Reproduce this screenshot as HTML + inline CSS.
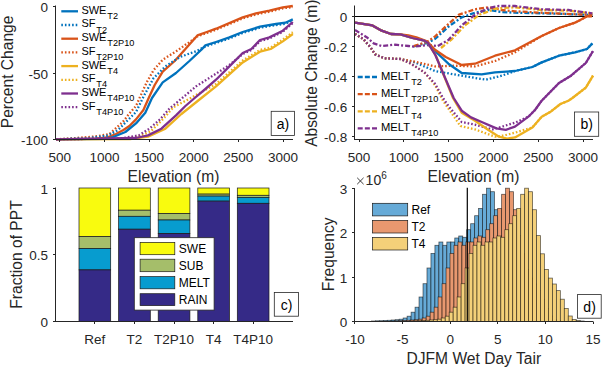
<!DOCTYPE html>
<html><head><meta charset="utf-8"><style>
html,body{margin:0;padding:0;background:#fff;}
svg{display:block;}
text{font-family:"Liberation Sans",sans-serif;}
</style></head><body>
<svg width="602" height="367" viewBox="0 0 602 367">
<rect width="602" height="367" fill="#fff"/>
<polyline points="56.0,139.3 96.0,138.6 107.0,137.5 116.0,134.0 123.4,130.0 129.4,126.0 136.0,119.4 143.4,110.0 148.7,98.0 154.7,85.0 162.7,71.7 174.7,61.0 185.4,49.0 197.4,35.4 206.8,32.0 216.0,28.7 242.7,17.4 256.0,13.4 269.4,10.7 282.8,7.3 292.8,6.0" fill="none" stroke="#D95319" stroke-width="2.3" stroke-linejoin="round" />
<polyline points="56.0,139.3 105.0,138.8 112.0,137.5 125.4,132.0 136.0,123.4 145.3,112.7 152.0,98.0 162.7,82.4 176.0,73.0 189.4,61.0 201.4,49.7 205.4,45.4 216.0,42.0 229.4,37.4 242.7,32.0 260.0,26.7 276.0,24.0 285.4,22.7 292.8,19.4" fill="none" stroke="#0072BD" stroke-width="2.3" stroke-linejoin="round" />
<polyline points="56.0,139.3 76.0,138.0 95.0,136.5 109.4,134.0 115.0,129.0 122.8,122.0 129.0,114.0 136.0,106.0 140.0,97.0 146.7,82.4 153.4,70.4 162.7,59.7 177.4,50.5 186.4,44.1 189.0,42.5 197.4,36.4 206.8,33.0 216.0,29.7 242.7,18.4 256.0,14.4 269.4,11.7 282.8,8.3 292.8,7.0" fill="none" stroke="#D95319" stroke-width="2.3" stroke-dasharray="1.6,2" stroke-linejoin="round" />
<polyline points="56.0,139.3 90.0,138.0 108.0,135.5 118.0,130.0 126.0,122.0 136.0,112.0 144.0,95.7 153.4,78.4 165.4,66.4 180.0,57.0 197.4,50.7 205.4,46.4 216.0,43.0 229.4,38.4 242.7,33.0 260.0,27.7 276.0,25.0 285.4,23.7 292.8,20.4" fill="none" stroke="#0072BD" stroke-width="2.3" stroke-dasharray="1.6,2" stroke-linejoin="round" />
<polyline points="56.0,139.3 130.0,139.0 148.0,136.7 165.4,128.7 181.4,114.0 201.4,98.0 216.0,86.4 242.7,62.4 260.0,51.7 270.7,49.0 282.8,41.4 292.8,34.0" fill="none" stroke="#EDB120" stroke-width="2.3" stroke-linejoin="round" />
<polyline points="56.0,139.3 125.0,138.5 140.0,136.0 150.7,131.4 162.7,119.4 173.4,107.3 189.4,98.7 216.0,84.0 242.7,60.5 260.0,50.0 270.7,47.5 282.8,39.6 292.8,32.3" fill="none" stroke="#EDB120" stroke-width="2.3" stroke-dasharray="1.6,2" stroke-linejoin="round" />
<polyline points="56.0,139.3 120.0,138.5 138.7,135.4 149.4,128.7 160.0,119.4 169.4,108.7 181.4,98.7 196.0,86.4 216.0,73.7 229.4,65.0 242.7,54.0 251.4,50.0 260.0,41.0 269.4,38.4 282.8,31.7 292.8,23.0" fill="none" stroke="#7E2F8E" stroke-width="2.3" stroke-dasharray="1.6,2" stroke-linejoin="round" />
<polyline points="56.0,139.3 136.0,138.0 148.0,135.4 161.4,128.7 176.0,115.4 185.4,106.0 194.7,98.0 205.4,89.0 216.0,79.7 229.4,66.4 242.7,53.0 251.4,49.0 260.0,40.0 269.4,37.4 282.8,30.7 292.8,22.0" fill="none" stroke="#7E2F8E" stroke-width="2.3" stroke-linejoin="round" />
<line x1="55.5" y1="5.5" x2="55.5" y2="140" stroke="#262626" stroke-width="1"/>
<line x1="55" y1="139.5" x2="293" y2="139.5" stroke="#262626" stroke-width="1"/>
<line x1="53.0" y1="6.5" x2="55.5" y2="6.5" stroke="#262626" stroke-width="1"/>
<text x="48" y="12.399999999999999" font-size="13.5" text-anchor="end" fill="#262626" >0</text>
<line x1="53.0" y1="73.5" x2="55.5" y2="73.5" stroke="#262626" stroke-width="1"/>
<text x="48" y="78.6" font-size="13.5" text-anchor="end" fill="#262626" >-50</text>
<line x1="53.0" y1="139.5" x2="55.5" y2="139.5" stroke="#262626" stroke-width="1"/>
<text x="48" y="144.8" font-size="13.5" text-anchor="end" fill="#262626" >-100</text>
<line x1="59.5" y1="139.5" x2="59.5" y2="142.0" stroke="#262626" stroke-width="1"/>
<text x="59.75" y="161.8" font-size="13.5" text-anchor="middle" fill="#262626" >500</text>
<line x1="104.5" y1="139.5" x2="104.5" y2="142.0" stroke="#262626" stroke-width="1"/>
<text x="104.4" y="161.8" font-size="13.5" text-anchor="middle" fill="#262626" >1000</text>
<line x1="149.5" y1="139.5" x2="149.5" y2="142.0" stroke="#262626" stroke-width="1"/>
<text x="149.05" y="161.8" font-size="13.5" text-anchor="middle" fill="#262626" >1500</text>
<line x1="193.5" y1="139.5" x2="193.5" y2="142.0" stroke="#262626" stroke-width="1"/>
<text x="193.70000000000002" y="161.8" font-size="13.5" text-anchor="middle" fill="#262626" >2000</text>
<line x1="238.5" y1="139.5" x2="238.5" y2="142.0" stroke="#262626" stroke-width="1"/>
<text x="238.35000000000002" y="161.8" font-size="13.5" text-anchor="middle" fill="#262626" >2500</text>
<line x1="283.5" y1="139.5" x2="283.5" y2="142.0" stroke="#262626" stroke-width="1"/>
<text x="283.0" y="161.8" font-size="13.5" text-anchor="middle" fill="#262626" >3000</text>
<text x="173.5" y="182.4" font-size="15.6" text-anchor="middle" fill="#262626" >Elevation (m)</text>
<text transform="translate(13.1,71.9) rotate(-90)" font-size="15.6" text-anchor="middle" fill="#262626">Percent Change</text>
<polyline points="61.3,11.3 78.0,11.3" fill="none" stroke="#0072BD" stroke-width="2.3" stroke-linejoin="round" />
<text x="81.4" y="13.7" font-size="11" fill="#000">SWE<tspan font-size="9.2" dx="0.9" dy="5.2">T2</tspan></text>
<polyline points="61.3,25.0 78.0,25.0" fill="none" stroke="#0072BD" stroke-width="2.3" stroke-dasharray="1.6,2" stroke-linejoin="round" />
<text x="81.4" y="27.4" font-size="11" fill="#000">SF<tspan font-size="9.2" dx="0.9" dy="5.2">T2</tspan></text>
<polyline points="61.3,38.7 78.0,38.7" fill="none" stroke="#D95319" stroke-width="2.3" stroke-linejoin="round" />
<text x="81.4" y="41.1" font-size="11" fill="#000">SWE<tspan font-size="9.2" dx="0.9" dy="5.2">T2P10</tspan></text>
<polyline points="61.3,52.4 78.0,52.4" fill="none" stroke="#D95319" stroke-width="2.3" stroke-dasharray="1.6,2" stroke-linejoin="round" />
<text x="81.4" y="54.8" font-size="11" fill="#000">SF<tspan font-size="9.2" dx="0.9" dy="5.2">T2P10</tspan></text>
<polyline points="61.3,66.1 78.0,66.1" fill="none" stroke="#EDB120" stroke-width="2.3" stroke-linejoin="round" />
<text x="81.4" y="68.5" font-size="11" fill="#000">SWE<tspan font-size="9.2" dx="0.9" dy="5.2">T4</tspan></text>
<polyline points="61.3,79.8 78.0,79.8" fill="none" stroke="#EDB120" stroke-width="2.3" stroke-dasharray="1.6,2" stroke-linejoin="round" />
<text x="81.4" y="82.2" font-size="11" fill="#000">SF<tspan font-size="9.2" dx="0.9" dy="5.2">T4</tspan></text>
<polyline points="61.3,93.5 78.0,93.5" fill="none" stroke="#7E2F8E" stroke-width="2.3" stroke-linejoin="round" />
<text x="81.4" y="95.9" font-size="11" fill="#000">SWE<tspan font-size="9.2" dx="0.9" dy="5.2">T4P10</tspan></text>
<polyline points="61.3,107.2 78.0,107.2" fill="none" stroke="#7E2F8E" stroke-width="2.3" stroke-dasharray="1.6,2" stroke-linejoin="round" />
<text x="81.4" y="109.6" font-size="11" fill="#000">SF<tspan font-size="9.2" dx="0.9" dy="5.2">T4P10</tspan></text>
<rect x="271.2" y="111.3" width="23.19999999999999" height="24.10000000000001" fill="#fff" stroke="#262626" stroke-width="0.8"/>
<text x="282.99999999999994" y="128.54999999999998" font-size="14" text-anchor="middle" fill="#000" >a)</text>
<line x1="355" y1="16.5" x2="593" y2="16.5" stroke="#000" stroke-width="1.2"/>
<polyline points="413.7,46.5 427.0,43.0 435.0,39.0 448.4,26.7 461.7,17.4 475.0,12.7 488.4,10.0 501.8,12.0 515.0,12.7 555.0,13.6 592.4,15.0" fill="none" stroke="#0072BD" stroke-width="2.3" stroke-dasharray="5,2,2,2" stroke-linejoin="round" />
<polyline points="413.7,46.0 427.0,42.0 435.0,36.5 448.4,24.0 459.0,14.7 475.0,9.3 488.4,7.3 501.8,10.0 515.0,11.3 555.0,13.4 592.4,15.0" fill="none" stroke="#D95319" stroke-width="2.3" stroke-dasharray="5,2,2,2" stroke-linejoin="round" />
<polyline points="441.0,48.0 452.0,39.0 465.0,25.4 479.5,14.7 496.0,8.5 515.0,7.3 541.7,10.0 568.4,10.7 592.4,13.4" fill="none" stroke="#EDB120" stroke-width="2.3" stroke-dasharray="5,2,2,2" stroke-linejoin="round" />
<polyline points="355.0,30.0 367.0,37.4 373.7,43.4 381.7,46.0 395.0,44.7 408.4,46.0 413.7,46.7 427.0,45.0 437.7,46.0 448.4,40.0 461.7,25.4 475.0,14.7 488.4,8.0 499.0,6.0 515.0,6.0 541.7,9.3 568.4,10.0 592.4,13.4" fill="none" stroke="#7E2F8E" stroke-width="2.3" stroke-dasharray="5,2,2,2" stroke-linejoin="round" />
<polyline points="355.0,34.0 363.0,38.7 371.0,48.0 375.0,54.3 384.4,58.3 400.4,59.0 415.0,62.4 435.0,71.0 461.7,75.7 485.7,79.7 501.8,75.7 515.0,71.0 532.4,67.0 541.7,62.4 559.0,55.7 575.0,52.3 587.0,49.0 592.4,43.4" fill="none" stroke="#0072BD" stroke-width="2.3" stroke-dasharray="1.6,2" stroke-linejoin="round" />
<polyline points="355.0,34.0 363.0,38.7 371.0,48.0 375.0,54.3 384.4,58.3 400.4,59.0 415.0,61.7 435.0,66.4 455.0,65.7 475.0,66.4 495.0,61.0 515.0,52.3 541.7,36.0 559.0,28.0 575.0,22.7 587.8,16.0 592.0,16.0" fill="none" stroke="#D95319" stroke-width="2.3" stroke-dasharray="1.6,2" stroke-linejoin="round" />
<polyline points="355.0,34.0 363.0,38.7 371.0,48.0 375.0,54.3 384.4,58.3 400.4,59.0 411.0,63.7 424.4,72.4 435.0,85.0 443.0,100.7 460.4,126.0 475.0,129.4 495.0,136.7 504.4,135.4 515.0,132.7 532.4,127.4 541.7,116.7 551.0,111.4 560.4,104.0 568.4,100.7 572.4,98.0 585.8,87.7 593.0,75.7" fill="none" stroke="#EDB120" stroke-width="2.3" stroke-dasharray="1.6,2" stroke-linejoin="round" />
<polyline points="355.0,34.0 363.0,38.7 371.0,48.0 375.0,54.3 384.4,58.3 400.4,59.0 411.0,63.7 424.4,72.4 435.0,83.7 443.0,98.0 448.4,106.0 461.7,122.0 475.0,124.7 492.4,129.4 501.8,126.7 515.0,122.7 528.4,116.7 535.0,110.0 541.7,100.7 559.0,83.0 571.0,75.7 585.8,63.0 593.0,51.0" fill="none" stroke="#7E2F8E" stroke-width="2.3" stroke-dasharray="1.6,2" stroke-linejoin="round" />
<polyline points="355.0,22.7 372.4,25.4 381.7,30.7 391.0,34.0 400.4,34.4 412.4,38.0 424.4,40.7 435.0,51.0 448.4,63.7 461.7,73.0 481.7,74.4 495.0,72.4 515.0,71.0 532.4,67.0 541.7,62.4 559.0,55.7 575.0,52.3 587.0,49.0 592.4,43.4" fill="none" stroke="#0072BD" stroke-width="2.3" stroke-linejoin="round" />
<polyline points="355.0,22.7 372.4,25.4 381.7,30.7 391.0,34.0 400.4,34.4 408.4,35.4 416.4,37.4 427.0,41.4 435.0,49.7 445.7,57.0 461.7,65.0 475.0,63.7 495.0,55.7 515.0,50.3 541.7,36.0 559.0,28.0 575.0,22.7 587.8,16.0 592.0,16.3" fill="none" stroke="#D95319" stroke-width="2.3" stroke-linejoin="round" />
<polyline points="355.0,22.7 372.4,25.4 381.7,30.7 391.0,34.0 400.4,34.4 412.4,38.0 424.4,40.7 428.0,43.0 436.0,56.0 453.0,98.0 461.7,112.7 475.0,120.7 488.4,130.0 499.0,136.7 507.0,138.7 515.0,137.4 532.4,127.4 541.7,116.7 551.0,111.4 560.4,104.0 568.4,100.7 572.4,98.0 585.8,87.7 593.0,75.7" fill="none" stroke="#EDB120" stroke-width="2.3" stroke-linejoin="round" />
<polyline points="355.0,22.7 372.4,25.4 381.7,30.7 391.0,34.0 400.4,34.4 412.4,38.0 424.4,40.7 427.8,42.7 435.0,54.3 453.7,98.0 461.7,110.7 471.0,117.4 481.7,122.0 496.4,128.4 505.8,129.8 515.0,126.7 528.4,116.7 535.0,110.0 541.7,100.7 559.0,83.0 571.0,75.7 585.8,63.0 593.0,51.0" fill="none" stroke="#7E2F8E" stroke-width="2.3" stroke-linejoin="round" />
<line x1="354.5" y1="5.5" x2="354.5" y2="140" stroke="#262626" stroke-width="1"/>
<line x1="354" y1="139.5" x2="593" y2="139.5" stroke="#262626" stroke-width="1"/>
<line x1="352.0" y1="16.5" x2="354.5" y2="16.5" stroke="#262626" stroke-width="1"/>
<text x="347.2" y="22.1" font-size="13.5" text-anchor="end" fill="#262626" >0</text>
<line x1="352.0" y1="46.5" x2="354.5" y2="46.5" stroke="#262626" stroke-width="1"/>
<text x="347.2" y="52.00000000000001" font-size="13.5" text-anchor="end" fill="#262626" >-0.2</text>
<line x1="352.0" y1="76.5" x2="354.5" y2="76.5" stroke="#262626" stroke-width="1"/>
<text x="347.2" y="81.9" font-size="13.5" text-anchor="end" fill="#262626" >-0.4</text>
<line x1="352.0" y1="106.5" x2="354.5" y2="106.5" stroke="#262626" stroke-width="1"/>
<text x="347.2" y="111.8" font-size="13.5" text-anchor="end" fill="#262626" >-0.6</text>
<line x1="352.0" y1="136.5" x2="354.5" y2="136.5" stroke="#262626" stroke-width="1"/>
<text x="347.2" y="141.70000000000002" font-size="13.5" text-anchor="end" fill="#262626" >-0.8</text>
<line x1="359.5" y1="139.5" x2="359.5" y2="142.0" stroke="#262626" stroke-width="1"/>
<text x="359.0" y="161.8" font-size="13.5" text-anchor="middle" fill="#262626" >500</text>
<line x1="403.5" y1="139.5" x2="403.5" y2="142.0" stroke="#262626" stroke-width="1"/>
<text x="403.8" y="161.8" font-size="13.5" text-anchor="middle" fill="#262626" >1000</text>
<line x1="448.5" y1="139.5" x2="448.5" y2="142.0" stroke="#262626" stroke-width="1"/>
<text x="448.6" y="161.8" font-size="13.5" text-anchor="middle" fill="#262626" >1500</text>
<line x1="493.5" y1="139.5" x2="493.5" y2="142.0" stroke="#262626" stroke-width="1"/>
<text x="493.4" y="161.8" font-size="13.5" text-anchor="middle" fill="#262626" >2000</text>
<line x1="538.5" y1="139.5" x2="538.5" y2="142.0" stroke="#262626" stroke-width="1"/>
<text x="538.2" y="161.8" font-size="13.5" text-anchor="middle" fill="#262626" >2500</text>
<line x1="583.5" y1="139.5" x2="583.5" y2="142.0" stroke="#262626" stroke-width="1"/>
<text x="583.0" y="161.8" font-size="13.5" text-anchor="middle" fill="#262626" >3000</text>
<text x="473.5" y="182.4" font-size="15.6" text-anchor="middle" fill="#262626" >Elevation (m)</text>
<text transform="translate(316.7,73.2) rotate(-90)" font-size="15.6" text-anchor="middle" fill="#262626">Absolute Change (m)</text>
<polyline points="357.7,77.0 377.0,77.0" fill="none" stroke="#0072BD" stroke-width="2.3" stroke-dasharray="5,2.15" stroke-linejoin="round" />
<text x="381" y="80.0" font-size="11.2" fill="#000">MELT<tspan font-size="9.2" dx="1.2" dy="4.9">T2</tspan></text>
<polyline points="357.7,94.2 377.0,94.2" fill="none" stroke="#D95319" stroke-width="2.3" stroke-dasharray="5,2.15" stroke-linejoin="round" />
<text x="381" y="97.2" font-size="11.2" fill="#000">MELT<tspan font-size="9.2" dx="1.2" dy="4.9">T2P10</tspan></text>
<polyline points="357.7,111.3 377.0,111.3" fill="none" stroke="#EDB120" stroke-width="2.3" stroke-dasharray="5,2.15" stroke-linejoin="round" />
<text x="381" y="114.3" font-size="11.2" fill="#000">MELT<tspan font-size="9.2" dx="1.2" dy="4.9">T4</tspan></text>
<polyline points="357.7,128.4 377.0,128.4" fill="none" stroke="#7E2F8E" stroke-width="2.3" stroke-dasharray="5,2.15" stroke-linejoin="round" />
<text x="381" y="131.4" font-size="11.2" fill="#000">MELT<tspan font-size="9.2" dx="1.2" dy="4.9">T4P10</tspan></text>
<rect x="574.4" y="112" width="24.300000000000068" height="24.30000000000001" fill="#fff" stroke="#262626" stroke-width="0.8"/>
<text x="586.75" y="129.35" font-size="14" text-anchor="middle" fill="#000" >b)</text>
<rect x="79.0" y="188.0" width="31.7" height="48.6" fill="#F9FB0E" stroke="#1a1a1a" stroke-width="0.7"/>
<rect x="79.0" y="236.6" width="31.7" height="12.0" fill="#A5BE6A" stroke="#1a1a1a" stroke-width="0.7"/>
<rect x="79.0" y="248.6" width="31.7" height="21.3" fill="#079CCF" stroke="#1a1a1a" stroke-width="0.7"/>
<rect x="79.0" y="269.9" width="31.7" height="51.6" fill="#352A87" stroke="#1a1a1a" stroke-width="0.7"/>
<rect x="118.6" y="188.0" width="31.7" height="22.2" fill="#F9FB0E" stroke="#1a1a1a" stroke-width="0.7"/>
<rect x="118.6" y="210.2" width="31.7" height="6.1" fill="#A5BE6A" stroke="#1a1a1a" stroke-width="0.7"/>
<rect x="118.6" y="216.3" width="31.7" height="12.9" fill="#079CCF" stroke="#1a1a1a" stroke-width="0.7"/>
<rect x="118.6" y="229.2" width="31.7" height="92.3" fill="#352A87" stroke="#1a1a1a" stroke-width="0.7"/>
<rect x="158.2" y="188.0" width="31.7" height="25.5" fill="#F9FB0E" stroke="#1a1a1a" stroke-width="0.7"/>
<rect x="158.2" y="213.5" width="31.7" height="6.5" fill="#A5BE6A" stroke="#1a1a1a" stroke-width="0.7"/>
<rect x="158.2" y="220.0" width="31.7" height="13.6" fill="#079CCF" stroke="#1a1a1a" stroke-width="0.7"/>
<rect x="158.2" y="233.6" width="31.7" height="87.9" fill="#352A87" stroke="#1a1a1a" stroke-width="0.7"/>
<rect x="197.8" y="188.0" width="31.7" height="6.1" fill="#F9FB0E" stroke="#1a1a1a" stroke-width="0.7"/>
<rect x="197.8" y="194.1" width="31.7" height="2.0" fill="#A5BE6A" stroke="#1a1a1a" stroke-width="0.7"/>
<rect x="197.8" y="196.1" width="31.7" height="5.0" fill="#079CCF" stroke="#1a1a1a" stroke-width="0.7"/>
<rect x="197.8" y="201.1" width="31.7" height="120.4" fill="#352A87" stroke="#1a1a1a" stroke-width="0.7"/>
<rect x="237.3" y="188.0" width="31.7" height="7.3" fill="#F9FB0E" stroke="#1a1a1a" stroke-width="0.7"/>
<rect x="237.3" y="195.3" width="31.7" height="2.1" fill="#A5BE6A" stroke="#1a1a1a" stroke-width="0.7"/>
<rect x="237.3" y="197.4" width="31.7" height="5.9" fill="#079CCF" stroke="#1a1a1a" stroke-width="0.7"/>
<rect x="237.3" y="203.3" width="31.7" height="118.2" fill="#352A87" stroke="#1a1a1a" stroke-width="0.7"/>
<line x1="55.5" y1="187.5" x2="55.5" y2="322" stroke="#262626" stroke-width="1"/>
<line x1="55.5" y1="321.5" x2="293" y2="321.5" stroke="#262626" stroke-width="1"/>
<line x1="53.0" y1="321.5" x2="55.5" y2="321.5" stroke="#262626" stroke-width="1"/>
<text x="48" y="327.1" font-size="13.5" text-anchor="end" fill="#262626" >0</text>
<line x1="53.0" y1="254.5" x2="55.5" y2="254.5" stroke="#262626" stroke-width="1"/>
<text x="48" y="260.35" font-size="13.5" text-anchor="end" fill="#262626" >0.5</text>
<line x1="53.0" y1="188.5" x2="55.5" y2="188.5" stroke="#262626" stroke-width="1"/>
<text x="48" y="193.6" font-size="13.5" text-anchor="end" fill="#262626" >1</text>
<line x1="94.5" y1="321.5" x2="94.5" y2="324.0" stroke="#262626" stroke-width="1"/>
<text x="94.8" y="343.5" font-size="13.5" text-anchor="middle" fill="#262626" >Ref</text>
<line x1="134.5" y1="321.5" x2="134.5" y2="324.0" stroke="#262626" stroke-width="1"/>
<text x="134.4" y="343.5" font-size="13.5" text-anchor="middle" fill="#262626" >T2</text>
<line x1="174.5" y1="321.5" x2="174.5" y2="324.0" stroke="#262626" stroke-width="1"/>
<text x="174.0" y="343.5" font-size="13.5" text-anchor="middle" fill="#262626" >T2P10</text>
<line x1="213.5" y1="321.5" x2="213.5" y2="324.0" stroke="#262626" stroke-width="1"/>
<text x="213.6" y="343.5" font-size="13.5" text-anchor="middle" fill="#262626" >T4</text>
<line x1="253.5" y1="321.5" x2="253.5" y2="324.0" stroke="#262626" stroke-width="1"/>
<text x="253.2" y="343.5" font-size="13.5" text-anchor="middle" fill="#262626" >T4P10</text>
<text transform="translate(22,254.5) rotate(-90)" font-size="15.6" text-anchor="middle" fill="#262626">Fraction of PPT</text>
<rect x="134.3" y="237.7" width="79.8" height="72.4" fill="#fff" stroke="#262626" stroke-width="0.8"/>
<rect x="140.1" y="242.4" width="34.7" height="12.3" fill="#F9FB0E" stroke="#1a1a1a" stroke-width="0.7"/>
<text x="178.8" y="252.85000000000002" font-size="12" text-anchor="start" fill="#000" >SWE</text>
<rect x="140.1" y="259.2" width="34.7" height="12.5" fill="#A5BE6A" stroke="#1a1a1a" stroke-width="0.7"/>
<text x="178.8" y="269.75" font-size="12" text-anchor="start" fill="#000" >SUB</text>
<rect x="140.1" y="276.6" width="34.7" height="12.2" fill="#079CCF" stroke="#1a1a1a" stroke-width="0.7"/>
<text x="178.8" y="287.00000000000006" font-size="12" text-anchor="start" fill="#000" >MELT</text>
<rect x="140.1" y="293.7" width="34.7" height="11.9" fill="#352A87" stroke="#1a1a1a" stroke-width="0.7"/>
<text x="178.8" y="303.95" font-size="12" text-anchor="start" fill="#000" >RAIN</text>
<rect x="274.3" y="292.5" width="24.099999999999966" height="23.69999999999999" fill="#fff" stroke="#262626" stroke-width="0.8"/>
<text x="286.55" y="309.55" font-size="14" text-anchor="middle" fill="#000" >c)</text>
<rect x="371.40" y="321.00" width="3.97" height="0.50" fill="#66AAD7" stroke="#000" stroke-opacity="0.6" stroke-width="0.8"/>
<rect x="375.37" y="320.80" width="3.97" height="0.70" fill="#66AAD7" stroke="#000" stroke-opacity="0.6" stroke-width="0.8"/>
<rect x="379.34" y="320.70" width="3.97" height="0.80" fill="#66AAD7" stroke="#000" stroke-opacity="0.6" stroke-width="0.8"/>
<rect x="383.31" y="320.50" width="3.97" height="1.00" fill="#66AAD7" stroke="#000" stroke-opacity="0.6" stroke-width="0.8"/>
<rect x="387.28" y="320.30" width="3.97" height="1.20" fill="#66AAD7" stroke="#000" stroke-opacity="0.6" stroke-width="0.8"/>
<rect x="391.25" y="320.00" width="3.97" height="1.50" fill="#66AAD7" stroke="#000" stroke-opacity="0.6" stroke-width="0.8"/>
<rect x="395.22" y="319.70" width="3.97" height="1.80" fill="#66AAD7" stroke="#000" stroke-opacity="0.6" stroke-width="0.8"/>
<rect x="399.19" y="319.20" width="3.97" height="2.30" fill="#66AAD7" stroke="#000" stroke-opacity="0.6" stroke-width="0.8"/>
<rect x="403.16" y="318.00" width="3.97" height="3.50" fill="#66AAD7" stroke="#000" stroke-opacity="0.6" stroke-width="0.8"/>
<rect x="407.13" y="316.20" width="3.97" height="5.30" fill="#66AAD7" stroke="#000" stroke-opacity="0.6" stroke-width="0.8"/>
<rect x="411.10" y="312.20" width="3.97" height="9.30" fill="#66AAD7" stroke="#000" stroke-opacity="0.6" stroke-width="0.8"/>
<rect x="415.07" y="307.20" width="3.97" height="14.30" fill="#66AAD7" stroke="#000" stroke-opacity="0.6" stroke-width="0.8"/>
<rect x="419.04" y="297.00" width="3.97" height="24.50" fill="#66AAD7" stroke="#000" stroke-opacity="0.6" stroke-width="0.8"/>
<rect x="423.01" y="283.70" width="3.97" height="37.80" fill="#66AAD7" stroke="#000" stroke-opacity="0.6" stroke-width="0.8"/>
<rect x="426.98" y="268.00" width="3.97" height="53.50" fill="#66AAD7" stroke="#000" stroke-opacity="0.6" stroke-width="0.8"/>
<rect x="430.95" y="253.40" width="3.97" height="68.10" fill="#66AAD7" stroke="#000" stroke-opacity="0.6" stroke-width="0.8"/>
<rect x="434.92" y="245.30" width="3.97" height="76.20" fill="#66AAD7" stroke="#000" stroke-opacity="0.6" stroke-width="0.8"/>
<rect x="438.89" y="242.00" width="3.97" height="79.50" fill="#66AAD7" stroke="#000" stroke-opacity="0.6" stroke-width="0.8"/>
<rect x="442.86" y="245.30" width="3.97" height="76.20" fill="#66AAD7" stroke="#000" stroke-opacity="0.6" stroke-width="0.8"/>
<rect x="446.83" y="242.00" width="3.97" height="79.50" fill="#66AAD7" stroke="#000" stroke-opacity="0.6" stroke-width="0.8"/>
<rect x="450.80" y="242.00" width="3.97" height="79.50" fill="#66AAD7" stroke="#000" stroke-opacity="0.6" stroke-width="0.8"/>
<rect x="454.77" y="238.00" width="3.97" height="83.50" fill="#66AAD7" stroke="#000" stroke-opacity="0.6" stroke-width="0.8"/>
<rect x="458.74" y="236.00" width="3.97" height="85.50" fill="#66AAD7" stroke="#000" stroke-opacity="0.6" stroke-width="0.8"/>
<rect x="462.71" y="237.30" width="3.97" height="84.20" fill="#66AAD7" stroke="#000" stroke-opacity="0.6" stroke-width="0.8"/>
<rect x="466.68" y="229.70" width="3.97" height="91.80" fill="#66AAD7" stroke="#000" stroke-opacity="0.6" stroke-width="0.8"/>
<rect x="470.65" y="223.70" width="3.97" height="97.80" fill="#66AAD7" stroke="#000" stroke-opacity="0.6" stroke-width="0.8"/>
<rect x="474.62" y="215.70" width="3.97" height="105.80" fill="#66AAD7" stroke="#000" stroke-opacity="0.6" stroke-width="0.8"/>
<rect x="478.59" y="208.40" width="3.97" height="113.10" fill="#66AAD7" stroke="#000" stroke-opacity="0.6" stroke-width="0.8"/>
<rect x="482.56" y="194.30" width="3.97" height="127.20" fill="#66AAD7" stroke="#000" stroke-opacity="0.6" stroke-width="0.8"/>
<rect x="486.53" y="188.20" width="3.97" height="133.30" fill="#66AAD7" stroke="#000" stroke-opacity="0.6" stroke-width="0.8"/>
<rect x="490.50" y="191.70" width="3.97" height="129.80" fill="#66AAD7" stroke="#000" stroke-opacity="0.6" stroke-width="0.8"/>
<rect x="494.47" y="209.70" width="3.97" height="111.80" fill="#66AAD7" stroke="#000" stroke-opacity="0.6" stroke-width="0.8"/>
<rect x="498.44" y="235.60" width="3.97" height="85.90" fill="#66AAD7" stroke="#000" stroke-opacity="0.6" stroke-width="0.8"/>
<rect x="502.41" y="253.80" width="3.97" height="67.70" fill="#66AAD7" stroke="#000" stroke-opacity="0.6" stroke-width="0.8"/>
<rect x="506.38" y="269.40" width="3.97" height="52.10" fill="#66AAD7" stroke="#000" stroke-opacity="0.6" stroke-width="0.8"/>
<rect x="510.35" y="278.10" width="3.97" height="43.40" fill="#66AAD7" stroke="#000" stroke-opacity="0.6" stroke-width="0.8"/>
<rect x="514.32" y="284.00" width="3.97" height="37.50" fill="#66AAD7" stroke="#000" stroke-opacity="0.6" stroke-width="0.8"/>
<rect x="518.29" y="290.60" width="3.97" height="30.90" fill="#66AAD7" stroke="#000" stroke-opacity="0.6" stroke-width="0.8"/>
<rect x="522.26" y="299.20" width="3.97" height="22.30" fill="#66AAD7" stroke="#000" stroke-opacity="0.6" stroke-width="0.8"/>
<rect x="526.23" y="308.50" width="3.97" height="13.00" fill="#66AAD7" stroke="#000" stroke-opacity="0.6" stroke-width="0.8"/>
<rect x="530.20" y="316.00" width="3.97" height="5.50" fill="#66AAD7" stroke="#000" stroke-opacity="0.6" stroke-width="0.8"/>
<rect x="534.17" y="319.50" width="3.97" height="2.00" fill="#66AAD7" stroke="#000" stroke-opacity="0.6" stroke-width="0.8"/>
<rect x="538.14" y="320.50" width="3.97" height="1.00" fill="#66AAD7" stroke="#000" stroke-opacity="0.6" stroke-width="0.8"/>
<rect x="542.11" y="321.00" width="3.97" height="0.50" fill="#66AAD7" stroke="#000" stroke-opacity="0.6" stroke-width="0.8"/>
<rect x="390.45" y="321.00" width="3.97" height="0.50" fill="#E8986F" stroke="#000" stroke-opacity="0.6" stroke-width="0.8"/>
<rect x="394.42" y="320.80" width="3.97" height="0.70" fill="#E8986F" stroke="#000" stroke-opacity="0.6" stroke-width="0.8"/>
<rect x="398.39" y="320.70" width="3.97" height="0.80" fill="#E8986F" stroke="#000" stroke-opacity="0.6" stroke-width="0.8"/>
<rect x="402.36" y="320.50" width="3.97" height="1.00" fill="#E8986F" stroke="#000" stroke-opacity="0.6" stroke-width="0.8"/>
<rect x="406.33" y="320.30" width="3.97" height="1.20" fill="#E8986F" stroke="#000" stroke-opacity="0.6" stroke-width="0.8"/>
<rect x="410.30" y="320.00" width="3.97" height="1.50" fill="#E8986F" stroke="#000" stroke-opacity="0.6" stroke-width="0.8"/>
<rect x="414.27" y="319.70" width="3.97" height="1.80" fill="#E8986F" stroke="#000" stroke-opacity="0.6" stroke-width="0.8"/>
<rect x="418.24" y="319.20" width="3.97" height="2.30" fill="#E8986F" stroke="#000" stroke-opacity="0.6" stroke-width="0.8"/>
<rect x="422.21" y="318.00" width="3.97" height="3.50" fill="#E8986F" stroke="#000" stroke-opacity="0.6" stroke-width="0.8"/>
<rect x="426.18" y="316.20" width="3.97" height="5.30" fill="#E8986F" stroke="#000" stroke-opacity="0.6" stroke-width="0.8"/>
<rect x="430.15" y="312.20" width="3.97" height="9.30" fill="#E8986F" stroke="#000" stroke-opacity="0.6" stroke-width="0.8"/>
<rect x="434.12" y="307.20" width="3.97" height="14.30" fill="#E8986F" stroke="#000" stroke-opacity="0.6" stroke-width="0.8"/>
<rect x="438.09" y="297.00" width="3.97" height="24.50" fill="#E8986F" stroke="#000" stroke-opacity="0.6" stroke-width="0.8"/>
<rect x="442.06" y="283.70" width="3.97" height="37.80" fill="#E8986F" stroke="#000" stroke-opacity="0.6" stroke-width="0.8"/>
<rect x="446.03" y="268.00" width="3.97" height="53.50" fill="#E8986F" stroke="#000" stroke-opacity="0.6" stroke-width="0.8"/>
<rect x="450.00" y="253.40" width="3.97" height="68.10" fill="#E8986F" stroke="#000" stroke-opacity="0.6" stroke-width="0.8"/>
<rect x="453.97" y="245.30" width="3.97" height="76.20" fill="#E8986F" stroke="#000" stroke-opacity="0.6" stroke-width="0.8"/>
<rect x="457.94" y="242.00" width="3.97" height="79.50" fill="#E8986F" stroke="#000" stroke-opacity="0.6" stroke-width="0.8"/>
<rect x="461.91" y="245.30" width="3.97" height="76.20" fill="#E8986F" stroke="#000" stroke-opacity="0.6" stroke-width="0.8"/>
<rect x="465.88" y="242.00" width="3.97" height="79.50" fill="#E8986F" stroke="#000" stroke-opacity="0.6" stroke-width="0.8"/>
<rect x="469.85" y="242.00" width="3.97" height="79.50" fill="#E8986F" stroke="#000" stroke-opacity="0.6" stroke-width="0.8"/>
<rect x="473.82" y="238.00" width="3.97" height="83.50" fill="#E8986F" stroke="#000" stroke-opacity="0.6" stroke-width="0.8"/>
<rect x="477.79" y="236.00" width="3.97" height="85.50" fill="#E8986F" stroke="#000" stroke-opacity="0.6" stroke-width="0.8"/>
<rect x="481.76" y="237.30" width="3.97" height="84.20" fill="#E8986F" stroke="#000" stroke-opacity="0.6" stroke-width="0.8"/>
<rect x="485.73" y="229.70" width="3.97" height="91.80" fill="#E8986F" stroke="#000" stroke-opacity="0.6" stroke-width="0.8"/>
<rect x="489.70" y="223.70" width="3.97" height="97.80" fill="#E8986F" stroke="#000" stroke-opacity="0.6" stroke-width="0.8"/>
<rect x="493.67" y="215.70" width="3.97" height="105.80" fill="#E8986F" stroke="#000" stroke-opacity="0.6" stroke-width="0.8"/>
<rect x="497.64" y="208.40" width="3.97" height="113.10" fill="#E8986F" stroke="#000" stroke-opacity="0.6" stroke-width="0.8"/>
<rect x="501.61" y="194.30" width="3.97" height="127.20" fill="#E8986F" stroke="#000" stroke-opacity="0.6" stroke-width="0.8"/>
<rect x="505.58" y="188.20" width="3.97" height="133.30" fill="#E8986F" stroke="#000" stroke-opacity="0.6" stroke-width="0.8"/>
<rect x="509.55" y="191.70" width="3.97" height="129.80" fill="#E8986F" stroke="#000" stroke-opacity="0.6" stroke-width="0.8"/>
<rect x="513.52" y="209.70" width="3.97" height="111.80" fill="#E8986F" stroke="#000" stroke-opacity="0.6" stroke-width="0.8"/>
<rect x="517.49" y="235.60" width="3.97" height="85.90" fill="#E8986F" stroke="#000" stroke-opacity="0.6" stroke-width="0.8"/>
<rect x="521.46" y="253.80" width="3.97" height="67.70" fill="#E8986F" stroke="#000" stroke-opacity="0.6" stroke-width="0.8"/>
<rect x="525.43" y="269.40" width="3.97" height="52.10" fill="#E8986F" stroke="#000" stroke-opacity="0.6" stroke-width="0.8"/>
<rect x="529.40" y="278.10" width="3.97" height="43.40" fill="#E8986F" stroke="#000" stroke-opacity="0.6" stroke-width="0.8"/>
<rect x="533.37" y="284.00" width="3.97" height="37.50" fill="#E8986F" stroke="#000" stroke-opacity="0.6" stroke-width="0.8"/>
<rect x="537.34" y="290.60" width="3.97" height="30.90" fill="#E8986F" stroke="#000" stroke-opacity="0.6" stroke-width="0.8"/>
<rect x="541.31" y="299.20" width="3.97" height="22.30" fill="#E8986F" stroke="#000" stroke-opacity="0.6" stroke-width="0.8"/>
<rect x="545.28" y="308.50" width="3.97" height="13.00" fill="#E8986F" stroke="#000" stroke-opacity="0.6" stroke-width="0.8"/>
<rect x="549.25" y="316.00" width="3.97" height="5.50" fill="#E8986F" stroke="#000" stroke-opacity="0.6" stroke-width="0.8"/>
<rect x="553.22" y="319.50" width="3.97" height="2.00" fill="#E8986F" stroke="#000" stroke-opacity="0.6" stroke-width="0.8"/>
<rect x="557.19" y="320.50" width="3.97" height="1.00" fill="#E8986F" stroke="#000" stroke-opacity="0.6" stroke-width="0.8"/>
<rect x="561.16" y="321.00" width="3.97" height="0.50" fill="#E8986F" stroke="#000" stroke-opacity="0.6" stroke-width="0.8"/>
<rect x="409.50" y="321.00" width="3.97" height="0.50" fill="#F4D079" stroke="#000" stroke-opacity="0.6" stroke-width="0.8"/>
<rect x="413.47" y="320.80" width="3.97" height="0.70" fill="#F4D079" stroke="#000" stroke-opacity="0.6" stroke-width="0.8"/>
<rect x="417.44" y="320.70" width="3.97" height="0.80" fill="#F4D079" stroke="#000" stroke-opacity="0.6" stroke-width="0.8"/>
<rect x="421.41" y="320.50" width="3.97" height="1.00" fill="#F4D079" stroke="#000" stroke-opacity="0.6" stroke-width="0.8"/>
<rect x="425.38" y="320.30" width="3.97" height="1.20" fill="#F4D079" stroke="#000" stroke-opacity="0.6" stroke-width="0.8"/>
<rect x="429.35" y="320.00" width="3.97" height="1.50" fill="#F4D079" stroke="#000" stroke-opacity="0.6" stroke-width="0.8"/>
<rect x="433.32" y="319.70" width="3.97" height="1.80" fill="#F4D079" stroke="#000" stroke-opacity="0.6" stroke-width="0.8"/>
<rect x="437.29" y="319.20" width="3.97" height="2.30" fill="#F4D079" stroke="#000" stroke-opacity="0.6" stroke-width="0.8"/>
<rect x="441.26" y="318.00" width="3.97" height="3.50" fill="#F4D079" stroke="#000" stroke-opacity="0.6" stroke-width="0.8"/>
<rect x="445.23" y="316.20" width="3.97" height="5.30" fill="#F4D079" stroke="#000" stroke-opacity="0.6" stroke-width="0.8"/>
<rect x="449.20" y="312.20" width="3.97" height="9.30" fill="#F4D079" stroke="#000" stroke-opacity="0.6" stroke-width="0.8"/>
<rect x="453.17" y="307.20" width="3.97" height="14.30" fill="#F4D079" stroke="#000" stroke-opacity="0.6" stroke-width="0.8"/>
<rect x="457.14" y="297.00" width="3.97" height="24.50" fill="#F4D079" stroke="#000" stroke-opacity="0.6" stroke-width="0.8"/>
<rect x="461.11" y="283.70" width="3.97" height="37.80" fill="#F4D079" stroke="#000" stroke-opacity="0.6" stroke-width="0.8"/>
<rect x="465.08" y="268.00" width="3.97" height="53.50" fill="#F4D079" stroke="#000" stroke-opacity="0.6" stroke-width="0.8"/>
<rect x="469.05" y="253.40" width="3.97" height="68.10" fill="#F4D079" stroke="#000" stroke-opacity="0.6" stroke-width="0.8"/>
<rect x="473.02" y="245.30" width="3.97" height="76.20" fill="#F4D079" stroke="#000" stroke-opacity="0.6" stroke-width="0.8"/>
<rect x="476.99" y="242.00" width="3.97" height="79.50" fill="#F4D079" stroke="#000" stroke-opacity="0.6" stroke-width="0.8"/>
<rect x="480.96" y="245.30" width="3.97" height="76.20" fill="#F4D079" stroke="#000" stroke-opacity="0.6" stroke-width="0.8"/>
<rect x="484.93" y="242.00" width="3.97" height="79.50" fill="#F4D079" stroke="#000" stroke-opacity="0.6" stroke-width="0.8"/>
<rect x="488.90" y="242.00" width="3.97" height="79.50" fill="#F4D079" stroke="#000" stroke-opacity="0.6" stroke-width="0.8"/>
<rect x="492.87" y="238.00" width="3.97" height="83.50" fill="#F4D079" stroke="#000" stroke-opacity="0.6" stroke-width="0.8"/>
<rect x="496.84" y="236.00" width="3.97" height="85.50" fill="#F4D079" stroke="#000" stroke-opacity="0.6" stroke-width="0.8"/>
<rect x="500.81" y="237.30" width="3.97" height="84.20" fill="#F4D079" stroke="#000" stroke-opacity="0.6" stroke-width="0.8"/>
<rect x="504.78" y="229.70" width="3.97" height="91.80" fill="#F4D079" stroke="#000" stroke-opacity="0.6" stroke-width="0.8"/>
<rect x="508.75" y="223.70" width="3.97" height="97.80" fill="#F4D079" stroke="#000" stroke-opacity="0.6" stroke-width="0.8"/>
<rect x="512.72" y="215.70" width="3.97" height="105.80" fill="#F4D079" stroke="#000" stroke-opacity="0.6" stroke-width="0.8"/>
<rect x="516.69" y="208.40" width="3.97" height="113.10" fill="#F4D079" stroke="#000" stroke-opacity="0.6" stroke-width="0.8"/>
<rect x="520.66" y="194.30" width="3.97" height="127.20" fill="#F4D079" stroke="#000" stroke-opacity="0.6" stroke-width="0.8"/>
<rect x="524.63" y="188.20" width="3.97" height="133.30" fill="#F4D079" stroke="#000" stroke-opacity="0.6" stroke-width="0.8"/>
<rect x="528.60" y="191.70" width="3.97" height="129.80" fill="#F4D079" stroke="#000" stroke-opacity="0.6" stroke-width="0.8"/>
<rect x="532.57" y="209.70" width="3.97" height="111.80" fill="#F4D079" stroke="#000" stroke-opacity="0.6" stroke-width="0.8"/>
<rect x="536.54" y="235.60" width="3.97" height="85.90" fill="#F4D079" stroke="#000" stroke-opacity="0.6" stroke-width="0.8"/>
<rect x="540.51" y="253.80" width="3.97" height="67.70" fill="#F4D079" stroke="#000" stroke-opacity="0.6" stroke-width="0.8"/>
<rect x="544.48" y="269.40" width="3.97" height="52.10" fill="#F4D079" stroke="#000" stroke-opacity="0.6" stroke-width="0.8"/>
<rect x="548.45" y="278.10" width="3.97" height="43.40" fill="#F4D079" stroke="#000" stroke-opacity="0.6" stroke-width="0.8"/>
<rect x="552.42" y="284.00" width="3.97" height="37.50" fill="#F4D079" stroke="#000" stroke-opacity="0.6" stroke-width="0.8"/>
<rect x="556.39" y="290.60" width="3.97" height="30.90" fill="#F4D079" stroke="#000" stroke-opacity="0.6" stroke-width="0.8"/>
<rect x="560.36" y="299.20" width="3.97" height="22.30" fill="#F4D079" stroke="#000" stroke-opacity="0.6" stroke-width="0.8"/>
<rect x="564.33" y="308.50" width="3.97" height="13.00" fill="#F4D079" stroke="#000" stroke-opacity="0.6" stroke-width="0.8"/>
<rect x="568.30" y="316.00" width="3.97" height="5.50" fill="#F4D079" stroke="#000" stroke-opacity="0.6" stroke-width="0.8"/>
<rect x="572.27" y="319.50" width="3.97" height="2.00" fill="#F4D079" stroke="#000" stroke-opacity="0.6" stroke-width="0.8"/>
<rect x="576.24" y="320.50" width="3.97" height="1.00" fill="#F4D079" stroke="#000" stroke-opacity="0.6" stroke-width="0.8"/>
<rect x="580.21" y="321.00" width="3.97" height="0.50" fill="#F4D079" stroke="#000" stroke-opacity="0.6" stroke-width="0.8"/>
<line x1="467.3" y1="187.7" x2="467.3" y2="321.3" stroke="#000" stroke-width="1.2"/>
<line x1="354.5" y1="188" x2="354.5" y2="322" stroke="#262626" stroke-width="1"/>
<line x1="354" y1="321.5" x2="593" y2="321.5" stroke="#262626" stroke-width="1"/>
<line x1="352.0" y1="321.5" x2="354.5" y2="321.5" stroke="#262626" stroke-width="1"/>
<text x="347.2" y="326.90000000000003" font-size="13.5" text-anchor="end" fill="#262626" >0</text>
<line x1="352.0" y1="277.5" x2="354.5" y2="277.5" stroke="#262626" stroke-width="1"/>
<text x="347.2" y="282.67" font-size="13.5" text-anchor="end" fill="#262626" >1</text>
<line x1="352.0" y1="232.5" x2="354.5" y2="232.5" stroke="#262626" stroke-width="1"/>
<text x="347.2" y="238.44000000000003" font-size="13.5" text-anchor="end" fill="#262626" >2</text>
<line x1="352.0" y1="188.5" x2="354.5" y2="188.5" stroke="#262626" stroke-width="1"/>
<text x="347.2" y="194.21" font-size="13.5" text-anchor="end" fill="#262626" >3</text>
<line x1="354.5" y1="321.5" x2="354.5" y2="324.0" stroke="#262626" stroke-width="1"/>
<text x="354.9" y="343.5" font-size="13.5" text-anchor="middle" fill="#262626" >-10</text>
<line x1="402.5" y1="321.5" x2="402.5" y2="324.0" stroke="#262626" stroke-width="1"/>
<text x="402.52" y="343.5" font-size="13.5" text-anchor="middle" fill="#262626" >-5</text>
<line x1="450.5" y1="321.5" x2="450.5" y2="324.0" stroke="#262626" stroke-width="1"/>
<text x="450.14" y="343.5" font-size="13.5" text-anchor="middle" fill="#262626" >0</text>
<line x1="497.5" y1="321.5" x2="497.5" y2="324.0" stroke="#262626" stroke-width="1"/>
<text x="497.76" y="343.5" font-size="13.5" text-anchor="middle" fill="#262626" >5</text>
<line x1="545.5" y1="321.5" x2="545.5" y2="324.0" stroke="#262626" stroke-width="1"/>
<text x="545.38" y="343.5" font-size="13.5" text-anchor="middle" fill="#262626" >10</text>
<line x1="593.5" y1="321.5" x2="593.5" y2="324.0" stroke="#262626" stroke-width="1"/>
<text x="593.0" y="343.5" font-size="13.5" text-anchor="middle" fill="#262626" >15</text>
<line x1="357.2" y1="177.8" x2="363.6" y2="184.2" stroke="#262626" stroke-width="0.9"/>
<line x1="357.2" y1="184.2" x2="363.6" y2="177.8" stroke="#262626" stroke-width="0.9"/>
<text x="365.6" y="184.6" font-size="14" fill="#262626">10</text>
<text x="381.3" y="178.6" font-size="10" fill="#262626">6</text>
<text x="473.8" y="363.5" font-size="15.6" text-anchor="middle" fill="#262626" >DJFM Wet Day Tair</text>
<text transform="translate(333.8,254.3) rotate(-90)" font-size="15.6" text-anchor="middle" fill="#262626">Frequency</text>
<rect x="372.5" y="203.3" width="35.2" height="12.6" fill="#66AAD7" stroke="#1a1a1a" stroke-width="0.7"/>
<text x="411.5" y="213.90000000000003" font-size="12" text-anchor="start" fill="#000" >Ref</text>
<rect x="372.5" y="220.4" width="35.2" height="12.6" fill="#E8986F" stroke="#1a1a1a" stroke-width="0.7"/>
<text x="411.5" y="230.95000000000005" font-size="12" text-anchor="start" fill="#000" >T2</text>
<rect x="372.5" y="237.4" width="35.2" height="12.6" fill="#F4D079" stroke="#1a1a1a" stroke-width="0.7"/>
<text x="411.5" y="248.00000000000003" font-size="12" text-anchor="start" fill="#000" >T4</text>
<rect x="577.6" y="294.6" width="23.600000000000023" height="23.599999999999966" fill="#fff" stroke="#262626" stroke-width="0.8"/>
<text x="589.6000000000001" y="311.59999999999997" font-size="14" text-anchor="middle" fill="#000" >d)</text>
</svg></body></html>
